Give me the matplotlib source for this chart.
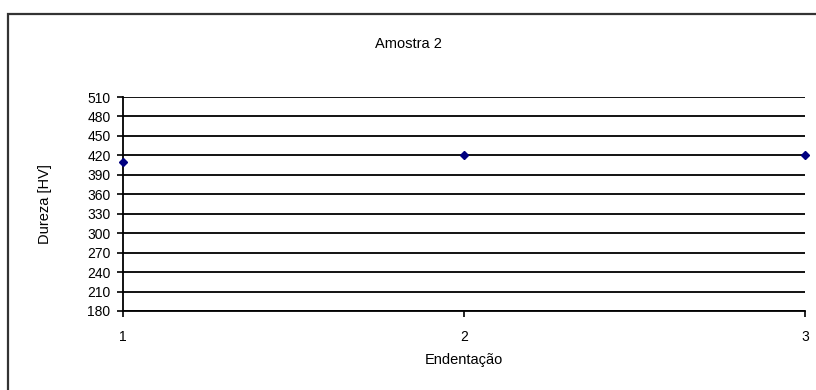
import matplotlib.pyplot as plt
from matplotlib.patches import Rectangle

# data
endentacao = [1, 2, 3]
dureza = [410, 420, 420]
y_ticks = [180, 210, 240, 270, 300, 330, 360, 390, 420, 450, 480, 510]

plt.rcParams['font.family'] = ['Liberation Sans', 'DejaVu Sans']

fig = plt.figure(figsize=(8.16, 3.9), dpi=100)
ax = fig.add_axes([123/816, 1 - 311/390, (805 - 123)/816, (311 - 97)/390])

# outer chart frame (right and bottom edges fall outside the picture)
fig.patches.append(Rectangle((8/816, -0.5), 2, 1.5 - 14/390, transform=fig.transFigure,
                             fill=False, edgecolor='#333333', linewidth=1.6))

for v in y_ticks:
    ax.axhline(v, color='black', linewidth=1.3, zorder=1)

ax.plot(endentacao, dureza, linestyle='none', marker='D', markersize=4.5,
        color='#000080', zorder=3, clip_on=False)

ax.set_xlim(1, 3)
ax.set_ylim(180, 510)
ax.set_xticks(endentacao)
ax.set_yticks(y_ticks)
ax.tick_params(axis='both', labelsize=10, length=4, width=1.2, color='black')
ax.tick_params(axis='x', pad=10)
ax.tick_params(axis='y', pad=5)

for s in ['top', 'right']:
    ax.spines[s].set_visible(False)
for s in ['left', 'bottom']:
    ax.spines[s].set_linewidth(1.3)

ax.set_xlabel('Endentação', fontsize=10.5, labelpad=6)
ax.set_ylabel('Dureza [HV]', fontsize=10.5, labelpad=25)
fig.text(408/816, 1 - 44/390, 'Amostra 2', fontsize=10.5, ha='center', va='center')

fig.savefig('out.png', dpi=100)
